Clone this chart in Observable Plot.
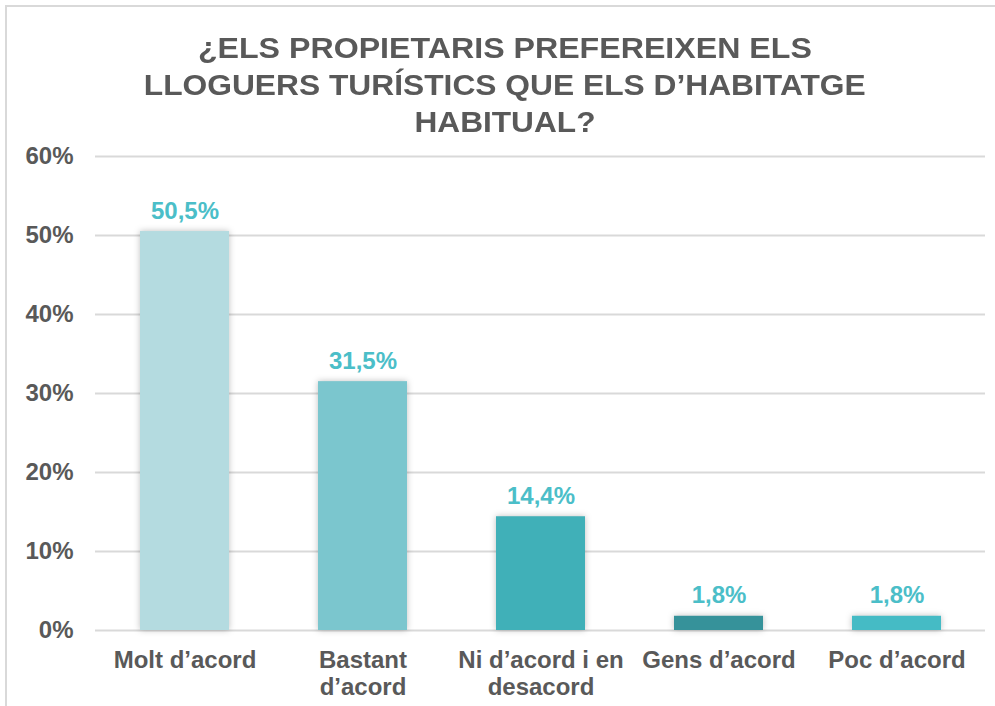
<!DOCTYPE html>
<html>
<head>
<meta charset="utf-8">
<script src="https://cdn.jsdelivr.net/npm/d3@7"></script>
<script src="https://cdn.jsdelivr.net/npm/@observablehq/plot@0.6"></script>
<style>
  html, body { margin: 0; padding: 0; background: #fff; }
  #wrap { position: relative; width: 995px; height: 706px; overflow: hidden; background: #fff; }
  #frame { position: absolute; left: 5px; top: 5px; width: 995px; height: 710px;
           border-top: 2px solid #d9d9d9; border-left: 2px solid #d9d9d9; box-sizing: border-box; }
  #title { position: absolute; left: 10px; width: 990px; top: 30px; text-align: center;
           font-family: "Liberation Sans Narrow", "Arial Narrow", "Liberation Sans", Arial, sans-serif;
           font-weight: bold; font-size: 29px; line-height: 37px; color: #595959; }
  #title span { display: inline-block; white-space: nowrap; transform-origin: center; }
  #chart { position: absolute; left: 0; top: 140px; }
</style>
</head>
<body>
<div id="wrap">
  <div id="frame"></div>
  <div id="title"></div>
  <div id="chart"></div>
</div>
<script>
const titleLines = ["¿ELS PROPIETARIS PREFEREIXEN ELS", "LLOGUERS TURÍSTICS QUE ELS D’HABITATGE", "HABITUAL?"];
const categories = ["Molt d’acord", "Bastant d’acord", "Ni d’acord i en desacord", "Gens d’acord", "Poc d’acord"];
const tickLabels = ["Molt d’acord", "Bastant\nd’acord", "Ni d’acord i en\ndesacord", "Gens d’acord", "Poc d’acord"];
const values = [0.505, 0.315, 0.144, 0.018, 0.018];
const valueLabels = ["50,5%", "31,5%", "14,4%", "1,8%", "1,8%"];
const colors = ["#b4dbe0", "#7bc6ce", "#40b0b8", "#36929a", "#45bbc5"];
const yTicks = [0, 0.1, 0.2, 0.3, 0.4, 0.5, 0.6];

// title
const titleEl = document.getElementById("title");
const targetWidths = [614, 722, 181];
titleLines.forEach((t) => {
  const s = document.createElement("span");
  s.textContent = t;
  titleEl.appendChild(s);
  titleEl.appendChild(document.createElement("br"));
});
titleEl.querySelectorAll("span").forEach((s, i) => {
  const w = s.getBoundingClientRect().width;
  if (w > 0) s.style.transform = `scaleX(${targetWidths[i] / w})`;
});

const data = categories.map((c, i) => ({cat: c, value: values[i], label: valueLabels[i], color: colors[i]}));

const chart = Plot.plot({
  width: 995,
  height: 566,
  marginLeft: 95,
  marginRight: 10,
  marginTop: 16,
  marginBottom: 76,
  style: {fontFamily: "'Liberation Sans', Arial, sans-serif", color: "#595959", background: "transparent", overflow: "visible"},
  x: {domain: categories, paddingInner: 0.5, paddingOuter: 0.25, label: null},
  y: {domain: [0, 0.6], label: null},
  marks: [
    Plot.gridY(yTicks, {stroke: "#d9d9d9", strokeOpacity: 1, strokeWidth: 2}),
    Plot.barY(data, {x: "cat", y: "value", fill: "color"}),
    Plot.text(data, {x: "cat", y: "value", text: "label", lineAnchor: "bottom", dy: -13,
      fill: "#4bbec8", fontSize: 24, fontWeight: "bold"}),
    Plot.axisY({ticks: yTicks, tickFormat: d => Math.round(d * 100) + "%", tickSize: 0, tickPadding: 22,
      fontSize: 24, fontWeight: "bold", fill: "#595959"}),
    Plot.axisX({tickSize: 0, tickPadding: 19, fontSize: 24, fontWeight: "bold", fill: "#595959", lineHeight: 1.1,
      tickFormat: (d) => tickLabels[categories.indexOf(d)]})
  ]
});
document.getElementById("chart").appendChild(chart);
d3.select(chart).selectAll("g[aria-label=bar] rect").style("filter", "drop-shadow(0px 0px 3px rgba(0,0,0,0.25))");
</script>
</body>
</html>
